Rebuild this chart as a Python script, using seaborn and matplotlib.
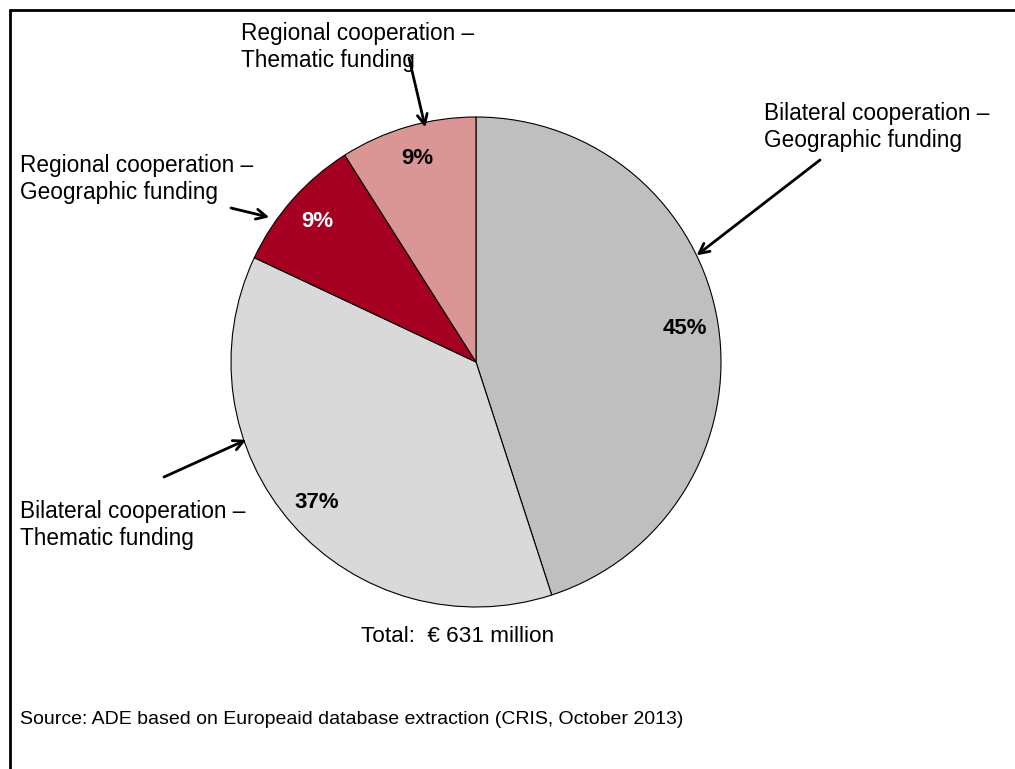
import numpy as np
import matplotlib
matplotlib.use("Agg")
import matplotlib.pyplot as plt
import seaborn as sns
from matplotlib.lines import Line2D

# Funding split (share of total, %)
categories = [
    "Bilateral cooperation –\nGeographic funding",
    "Bilateral cooperation –\nThematic funding",
    "Regional cooperation –\nGeographic funding",
    "Regional cooperation –\nThematic funding",
]
shares = [45, 37, 9, 9]
pct_labels = ["45%", "37%", "9%", "9%"]
total_text = "Total:  € 631 million"
source_text = "Source: ADE based on Europeaid database extraction (CRIS, October 2013)"

sns.set_theme(style="white")
plt.rcParams["font.family"] = ["Liberation Sans", "DejaVu Sans"]
plt.rcParams["text.color"] = "black"

colors = ["#BFBFBF", "#D9D9D9", "#A50021", "#D99694"]
pct_colors = ["black", "black", "white", "black"]

W, H = 1015, 769
fig = plt.figure(figsize=(W / 100, H / 100), dpi=100)
fig.patch.set_facecolor("white")

# square axes holding the pie: centre (476, 362) px, radius 245 px
cx, cy, r = 476, 362, 245
ax = fig.add_axes([(cx - r) / W, (H - cy - r) / H, 2 * r / W, 2 * r / H])
wedges, _ = ax.pie(
    shares, colors=colors, startangle=90, counterclock=False,
    radius=1.0, wedgeprops=dict(edgecolor="black", linewidth=0.8),
)
ax.set_xlim(-1, 1)
ax.set_ylim(-1, 1)
ax.set_aspect("auto")
ax.axis("off")

# percentage labels placed along each wedge's mid-angle
for w, lab, c in zip(wedges, pct_labels, pct_colors):
    mid = np.deg2rad((w.theta1 + w.theta2) / 2)
    ax.text(0.865 * np.cos(mid), 0.865 * np.sin(mid), lab, ha="center", va="center",
            fontsize=16, fontweight="bold", color=c)

# category callouts: text anchor (px), arrow tail (px), arrow tip angle on the rim
callouts = [
    (categories[0], (764, 102), (820, 160), 25.8, 1.0),
    (categories[1], (20, 500), (164, 477), 198.7, 0.99),
    (categories[2], (20, 154), (231, 208), 145.0, 1.03),
    (categories[3], (241, 22), (409, 58), 102.2, 0.98),
]
for text, (tx, ty), (ax0, ay0), ang, rr in callouts:
    fig.text(tx / W, 1 - ty / H, text, ha="left", va="top", fontsize=16.3,
             linespacing=1.22, color="black")
    a = np.deg2rad(ang)
    ax.annotate("", xy=(rr * np.cos(a), rr * np.sin(a)),
                xytext=(ax0 / W, 1 - ay0 / H), textcoords="figure fraction",
                arrowprops=dict(arrowstyle="->", lw=2, color="black",
                                mutation_scale=18, shrinkA=0, shrinkB=0))

fig.text(458 / W, 1 - 637 / H, total_text, ha="center", va="center", fontsize=16.2,
         color="black")
fig.text(20 / W, 1 - 719 / H, source_text, ha="left", va="center", fontsize=14,
         color="black")

# frame lines along the top and left edges
fig.add_artist(Line2D([9.5 / W, 1.0], [1 - 9.5 / H, 1 - 9.5 / H], transform=fig.transFigure,
                      color="black", lw=2))
fig.add_artist(Line2D([9.5 / W, 9.5 / W], [0, 1 - 9.5 / H], transform=fig.transFigure,
                      color="black", lw=2))

fig.savefig("out.png", dpi=100, facecolor="white")
